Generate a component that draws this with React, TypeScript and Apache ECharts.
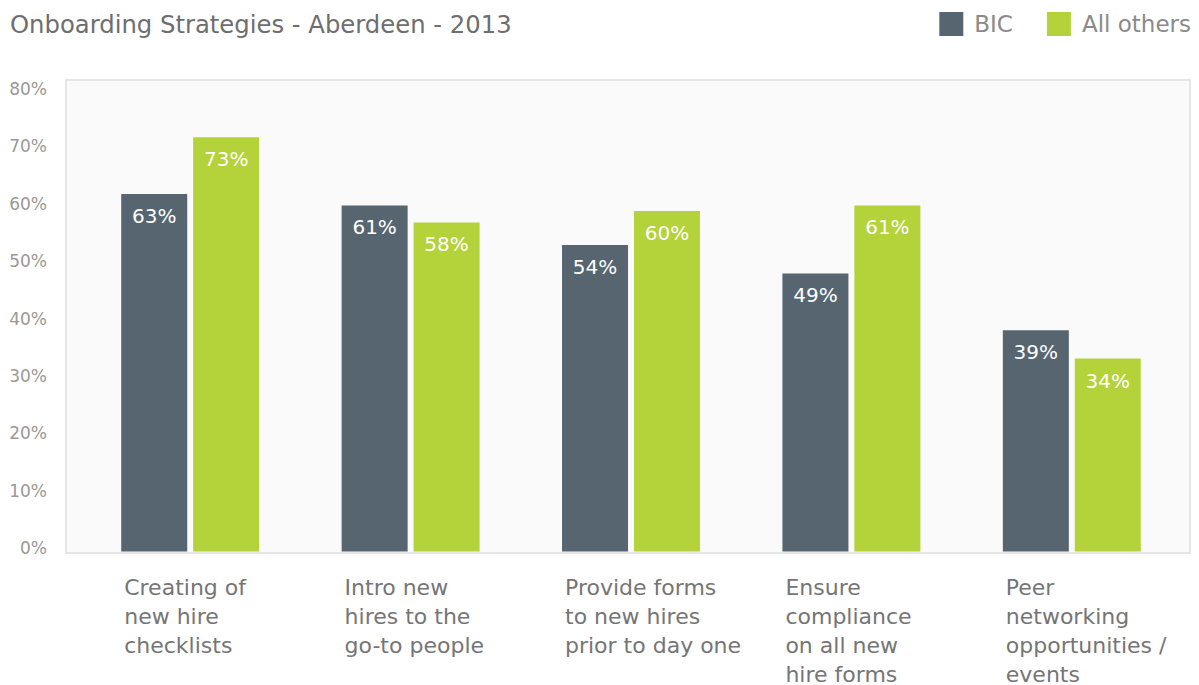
import React, { useEffect, useRef } from "react";
import * as echarts from "echarts";

const categories = [
  "Creating of\nnew hire\nchecklists",
  "Intro new\nhires to the\ngo-to people",
  "Provide forms\nto new hires\nprior to day one",
  "Ensure\ncompliance\non all new\nhire forms",
  "Peer\nnetworking\nopportunities /\nevents",
];
const bicValues = [63, 61, 54, 49, 39];
const otherValues = [73, 58, 60, 61, 34];
const seriesNames = ["BIC", "All others"];
const titleText = "Onboarding Strategies - Aberdeen - 2013";

const FONT = "DejaVu Sans";

export default function App() {
  const ref = useRef<HTMLDivElement>(null);
  useEffect(() => {
    if (!ref.current) return;
    const chart = echarts.init(ref.current, null, { renderer: "svg" });
    const barLabel = {
      show: true,
      position: "insideTop",
      distance: 12,
      color: "#ffffff",
      fontSize: 20,
      fontFamily: FONT,
      formatter: "{c}%",
    };
    chart.setOption({
      animation: false,
      backgroundColor: "#ffffff",
      textStyle: { fontFamily: FONT },
      title: {
        text: titleText,
        left: 5,
        top: 7,
        textStyle: { fontFamily: FONT, fontSize: 24.3, fontWeight: "normal", color: "#6e6e6e" },
      },
      legend: {
        data: seriesNames,
        right: 3,
        top: 7,
        icon: "rect",
        itemWidth: 24,
        itemHeight: 24,
        itemGap: 34,
        textStyle: { fontFamily: FONT, fontSize: 23, color: "#8a8a8a", padding: [0, 0, 0, 6] },
      },
      graphic: [
        {
          type: "rect",
          z: 0,
          shape: { x: 66, y: 80, width: 1124, height: 473 },
          style: { fill: "#fafafa", stroke: "#e6e6e6", lineWidth: 2 },
        },
      ],
      grid: [
        { left: 80, right: 17, top: 97.6, bottom: 133 },
        { left: 66, right: 9, top: 89, bottom: 137 },
      ],
      xAxis: [
        {
          type: "category",
          gridIndex: 0,
          data: categories,
          axisLine: { show: false },
          axisTick: { show: false },
          axisLabel: {
            margin: 21,
            formatter: (v: string) =>
              v
                .split("\n")
                .map((l) => `{a|${l}}`)
                .join("\n"),
            rich: {
              a: {
                width: 132,
                align: "left",
                fontFamily: FONT,
                fontSize: 22,
                lineHeight: 29,
                color: "#757575",
              },
            },
          },
        },
        { type: "value", gridIndex: 1, show: false, min: 0, max: 1 },
      ],
      yAxis: [
        { type: "value", gridIndex: 0, min: 0, max: 80, show: false },
        {
          type: "value",
          gridIndex: 1,
          min: 0,
          max: 80,
          interval: 10,
          axisLine: { show: false },
          axisTick: { show: false },
          splitLine: { show: false },
          axisLabel: {
            formatter: "{value}%",
            margin: 19,
            fontFamily: FONT,
            fontSize: 17,
            color: "#9c9893",
          },
        },
      ],
      series: [
        {
          name: seriesNames[0],
          type: "bar",
          xAxisIndex: 0,
          yAxisIndex: 0,
          data: bicValues,
          barWidth: 66,
          barGap: "9%",
          itemStyle: { color: "#566570" },
          label: barLabel,
        },
        {
          name: seriesNames[1],
          type: "bar",
          xAxisIndex: 0,
          yAxisIndex: 0,
          data: otherValues,
          barWidth: 66,
          barGap: "9%",
          itemStyle: { color: "#b4d23a" },
          label: barLabel,
        },
      ],
    });
    return () => chart.dispose();
  }, []);
  return (
    <div
      ref={ref}
      style={{ position: "fixed", left: 0, top: 0, width: 1199, height: 685 }}
    />
  );
}
